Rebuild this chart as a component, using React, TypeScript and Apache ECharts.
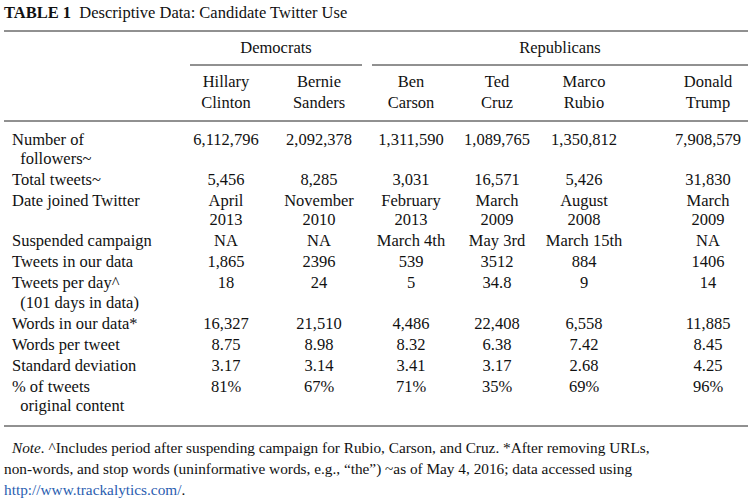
import { useEffect, useRef } from "react";
import * as echarts from "echarts";

const title = "Descriptive Data: Candidate Twitter Use";
const parties = [
  { name: "Democrats", from: 0, to: 1 },
  { name: "Republicans", from: 2, to: 5 },
];
const candidates = [
  ["Hillary", "Clinton"],
  ["Bernie", "Sanders"],
  ["Ben", "Carson"],
  ["Ted", "Cruz"],
  ["Marco", "Rubio"],
  ["Donald", "Trump"],
];
const rowLabels = [
  ["Number of", "  followers~"],
  ["Total tweets~"],
  ["Date joined Twitter"],
  ["Suspended campaign"],
  ["Tweets in our data"],
  ["Tweets per day^", "  (101 days in data)"],
  ["Words in our data*"],
  ["Words per tweet"],
  ["Standard deviation"],
  ["% of tweets", "  original content"],
];
const followers = ["6,112,796", "2,092,378", "1,311,590", "1,089,765", "1,350,812", "7,908,579"];
const totalTweets = ["5,456", "8,285", "3,031", "16,571", "5,426", "31,830"];
const dateJoined = ["April\n2013", "November\n2010", "February\n2013", "March\n2009", "August\n2008", "March\n2009"];
const suspended = ["NA", "NA", "March 4th", "May 3rd", "March 15th", "NA"];
const tweetsInData = ["1,865", "2396", "539", "3512", "884", "1406"];
const tweetsPerDay = ["18", "24", "5", "34.8", "9", "14"];
const wordsInData = ["16,327", "21,510", "4,486", "22,408", "6,558", "11,885"];
const wordsPerTweet = ["8.75", "8.98", "8.32", "6.38", "7.42", "8.45"];
const stdDev = ["3.17", "3.14", "3.41", "3.17", "2.68", "4.25"];
const originalPct = ["81%", "67%", "71%", "35%", "69%", "96%"];
const rowValues = [followers, totalTweets, dateJoined, suspended, tweetsInData, tweetsPerDay, wordsInData, wordsPerTweet, stdDev, originalPct];
const noteLines = [
  "^Includes period after suspending campaign for Rubio, Carson, and Cruz. *After removing URLs,",
  "non-words, and stop words (uninformative words, e.g., “the”) ~as of May 4, 2016; data accessed using",
];
const noteUrl = "http://www.trackalytics.com/";

const FONT = "'Liberation Serif', 'DejaVu Serif', serif";
const colX = [226, 319, 411, 497, 584, 708];
const colEdges = [[190, 362], [372, 748]];
const LINE = 19.4;
const GAP = 1.6;

export default function App() {
  const ref = useRef<HTMLDivElement>(null);

  useEffect(() => {
    if (!ref.current) return;
    const chart = echarts.init(ref.current, null, { renderer: "svg" });
    const txt = (x: number, y: number, text: string, extra: any = {}) => ({
      type: "text",
      x,
      y,
      style: { text, font: `16.5px ${FONT}`, fill: "#111", textVerticalAlign: "middle", ...extra },
    });
    const hline = (x1: number, x2: number, y: number) => ({
      type: "line",
      shape: { x1, y1: y, x2, y2: y },
      style: { stroke: "#222", lineWidth: 1 },
    });
    const els: any[] = [];
    els.push({
      type: "text",
      x: 4,
      y: 12,
      style: {
        text: "{b|TABLE 1}  " + title,
        font: `16.5px ${FONT}`,
        fill: "#111",
        textVerticalAlign: "middle",
        rich: { b: { fontWeight: "bold", fontSize: 16.5, fontFamily: FONT } },
      },
    });
    els.push(hline(4, 748, 31));
    parties.forEach((p, i) => {
      els.push(txt((colEdges[i][0] + colEdges[i][1]) / 2, 47, p.name, { textAlign: "center" }));
      els.push(hline(colEdges[i][0], colEdges[i][1], 65));
    });
    candidates.forEach((c, i) => {
      c.forEach((line, j) => els.push(txt(colX[i], 81 + j * 21, line, { textAlign: "center" })));
    });
    els.push(hline(4, 748, 121));
    let y = 139;
    rowLabels.forEach((lab, r) => {
      const vals = rowValues[r];
      const nLines = Math.max(lab.length, ...vals.map((v) => v.split("\n").length));
      lab.forEach((l, j) => els.push(txt(12, y + j * LINE, l)));
      vals.forEach((v, i) =>
        v.split("\n").forEach((l, j) => els.push(txt(colX[i], y + j * LINE, l, { textAlign: "center" })))
      );
      y += nLines * LINE + GAP;
    });
    els.push(hline(4, 748, 426));
    const noteFont = `15.3px ${FONT}`;
    els.push({
      type: "text",
      x: 12,
      y: 447,
      style: {
        text: "{i|Note.} " + noteLines[0],
        font: noteFont,
        fill: "#111",
        textVerticalAlign: "middle",
        rich: { i: { fontStyle: "italic", fontSize: 15.3, fontFamily: FONT } },
      },
    });
    els.push({ type: "text", x: 4, y: 468, style: { text: noteLines[1], font: noteFont, fill: "#111", textVerticalAlign: "middle" } });
    els.push({
      type: "text",
      x: 4,
      y: 489,
      style: {
        text: "{u|" + noteUrl + "}.",
        font: noteFont,
        fill: "#111",
        textVerticalAlign: "middle",
        rich: { u: { fill: "#2a5db0", fontSize: 15.3, fontFamily: FONT } },
      },
    });

    chart.setOption({ animation: false, backgroundColor: "#fff", graphic: els });
    return () => chart.dispose();
  }, []);

  return <div ref={ref} style={{ width: 754, height: 500, position: "absolute", left: 0, top: 0 }} />;
}
